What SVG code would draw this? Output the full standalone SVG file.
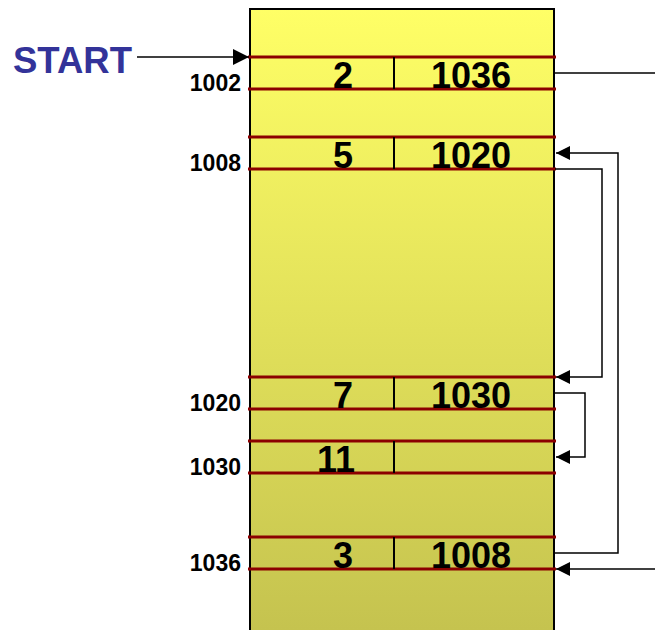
<svg xmlns="http://www.w3.org/2000/svg" width="655" height="630" viewBox="0 0 655 630">
  <defs>
    <linearGradient id="fill" gradientUnits="userSpaceOnUse" x1="0" y1="9" x2="0" y2="630">
      <stop offset="0" stop-color="#FFFF66"/>
      <stop offset="1" stop-color="#C5C34F"/>
    </linearGradient>
    <marker id="arr" markerUnits="userSpaceOnUse" markerWidth="14" markerHeight="14" refX="14" refY="7" orient="auto">
      <path d="M0,0 L14,7 L0,14 z" fill="#000"/>
    </marker>
    <marker id="arrBig" markerUnits="userSpaceOnUse" markerWidth="16" markerHeight="16" refX="16" refY="8" orient="auto">
      <path d="M0,0 L16,8 L0,16 z" fill="#000"/>
    </marker>
  </defs>
  <style>
    .mem { fill: url(#fill); stroke: #000; stroke-width: 2; }
    .red { stroke: #8B0000; stroke-width: 3; }
    .div { stroke: #000; stroke-width: 2; }
    .val { font-family: "Liberation Sans", Arial, sans-serif; font-weight: bold; font-size: 36px; fill: #000; text-anchor: middle; }
    .addr { font-family: "Liberation Sans", Arial, sans-serif; font-weight: bold; font-size: 23px; fill: #000; text-anchor: end; }
    .start { font-family: "Liberation Sans", Arial, sans-serif; font-weight: bold; font-size: 36.5px; fill: #333399; }
    .con { fill: none; stroke: #000; stroke-width: 1.5; }
  </style>

  <g id="memory">
    <rect class="mem" x="250" y="9" width="304" height="630"/>
  </g>

  <g id="start">
    <text class="start" x="13" y="73">START</text>
  </g>

  <g id="node-1002">
    <line class="red" x1="248" y1="57" x2="556" y2="57"/>
    <line class="red" x1="248" y1="89" x2="556" y2="89"/>
    <line class="div" x1="394" y1="57" x2="394" y2="89"/>
    <text class="val" x="343" y="88">2</text>
    <text class="val" x="471" y="88">1036</text>
    <text class="addr" x="241" y="91">1002</text>
  </g>

  <g id="node-1008">
    <line class="red" x1="248" y1="137" x2="556" y2="137"/>
    <line class="red" x1="248" y1="169" x2="556" y2="169"/>
    <line class="div" x1="394" y1="137" x2="394" y2="169"/>
    <text class="val" x="343" y="168">5</text>
    <text class="val" x="471" y="168">1020</text>
    <text class="addr" x="241" y="171">1008</text>
  </g>

  <g id="node-1020">
    <line class="red" x1="248" y1="377" x2="556" y2="377"/>
    <line class="red" x1="248" y1="409" x2="556" y2="409"/>
    <line class="div" x1="394" y1="377" x2="394" y2="409"/>
    <text class="val" x="343" y="408">7</text>
    <text class="val" x="471" y="408">1030</text>
    <text class="addr" x="241" y="411">1020</text>
  </g>

  <g id="node-1030">
    <line class="red" x1="248" y1="441" x2="556" y2="441"/>
    <line class="red" x1="248" y1="473" x2="556" y2="473"/>
    <line class="div" x1="394" y1="441" x2="394" y2="473"/>
    <text class="val" x="336" y="472">11</text>
    <text class="addr" x="241" y="475">1030</text>
  </g>

  <g id="node-1036">
    <line class="red" x1="248" y1="537" x2="556" y2="537"/>
    <line class="red" x1="248" y1="569" x2="556" y2="569"/>
    <line class="div" x1="394" y1="537" x2="394" y2="569"/>
    <text class="val" x="343" y="568">3</text>
    <text class="val" x="471" y="568">1008</text>
    <text class="addr" x="241" y="571">1036</text>
  </g>

  <g id="connectors">
    <line class="con" x1="137" y1="57" x2="249" y2="57" marker-end="url(#arrBig)"/>
    <line class="con" x1="555" y1="73" x2="655" y2="73"/>
    <polyline class="con" points="555,169 602,169 602,377 556,377" marker-end="url(#arr)"/>
    <polyline class="con" points="555,393 585,393 585,457 556,457" marker-end="url(#arr)"/>
    <polyline class="con" points="555,553 618,553 618,153 556,153" marker-end="url(#arr)"/>
    <line class="con" x1="655" y1="569" x2="556" y2="569" marker-end="url(#arr)"/>
  </g>
</svg>
